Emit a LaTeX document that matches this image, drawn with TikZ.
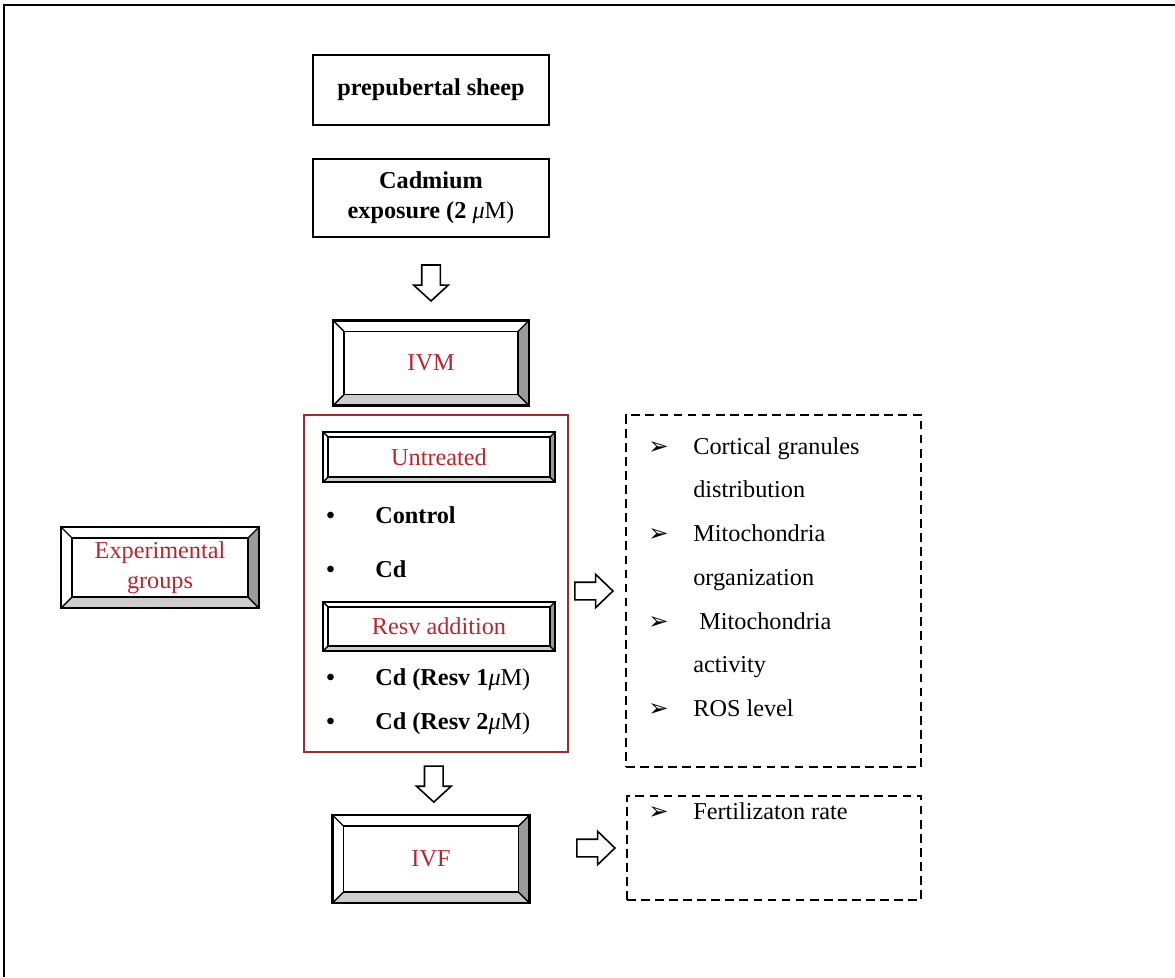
\documentclass[tikz,border=0pt]{standalone}
\usepackage{fontspec}
\setmainfont{Liberation Serif}
\newfontfamily\dingfont{DejaVu Sans}
\usetikzlibrary{calc,positioning,shapes.arrows}
\definecolor{flowRed}{HTML}{B8262D}
\definecolor{frameRed}{HTML}{A32A2C}
\definecolor{bevelDark}{HTML}{9A9A9A}
\definecolor{bevelLight}{HTML}{CDCDCD}
\newcommand{\flowfont}{\fontsize{13.8}{17}\selectfont}

\begin{document}
\begin{tikzpicture}[x=0.02cm,y=-0.02cm,font=\flowfont]
  \tikzset{
    bevel depth/.store in=\bevdepth,
    bevel depth=0.22cm,
    plainbox/.style={
      draw,
      line width=1.1pt,
      font=\flowfont\bfseries,
      align=center,
      inner sep=0pt
    },
    bevelbox/.style={
      draw,
      line width=1.2pt,
      fill=white,
      text=flowRed,
      align=center,
      inner sep=0pt,
      path picture={
        \path (path picture bounding box.north west) coordinate (bnw)
              (path picture bounding box.north east) coordinate (bne)
              (path picture bounding box.south west) coordinate (bsw)
              (path picture bounding box.south east) coordinate (bse);
        \path ([shift={(\bevdepth,-\bevdepth)}]bnw) coordinate (inw)
              ([shift={(-\bevdepth,-\bevdepth)}]bne) coordinate (ine)
              ([shift={(\bevdepth,\bevdepth)}]bsw) coordinate (isw)
              ([shift={(-\bevdepth,\bevdepth)}]bse) coordinate (ise);
        \fill[bevelDark] (bne) -- (bse) -- (ise) -- (ine) -- cycle;
        \fill[bevelLight] (bsw) -- (bse) -- (ise) -- (isw) -- cycle;
        \draw[line width=0.8pt] (inw) rectangle (ise);
        \draw[line width=0.8pt] (bnw) -- (inw) (bne) -- (ine) (bsw) -- (isw) (bse) -- (ise);
      }
    },
    dashbox/.style={
      draw,
      line width=1.1pt,
      dash pattern=on 5pt off 3pt
    },
    blockarrow/.style={
      single arrow,
      draw,
      fill=white,
      line width=0.9pt,
      inner xsep=0pt
    },
    downarrow/.style={
      blockarrow,
      rotate=-90,
      inner ysep=0.17cm,
      minimum height=0.72cm,
      single arrow head extend=0.16cm,
      single arrow tip angle=95
    },
    rightarrow/.style={
      blockarrow,
      inner ysep=0.16cm,
      minimum height=0.76cm,
      single arrow head extend=0.16cm,
      single arrow tip angle=88
    },
    groupitem/.style={anchor=base west, inner sep=0pt, font=\flowfont\bfseries},
    outitem/.style={anchor=base west, inner sep=0pt, font=\fontsize{13.8}{24.9}\selectfont}
  }
  \useasboundingbox (0,0) rectangle (1175,977);

  % page frame
  \draw[line width=1.1pt] (4,977) |- (1175,5);

  % main column
  \node[plainbox,minimum width=4.72cm,minimum height=1.4cm] (sheep) at (431,90) {prepubertal sheep};
  \node[plainbox,minimum width=4.72cm,minimum height=1.56cm] (cad) at (431,198) {Cadmium\\exposure (2 \textmd{\textit{μ}M)}};
  \node[bevelbox,minimum width=3.92cm,minimum height=1.7cm] (ivm) at (431,363) {IVM};
  \node[downarrow] (arr1) at ($(cad.south)!0.5!(ivm.north)$) {};

  % treatment groups
  \node[draw=frameRed,line width=1.2pt,minimum width=5.28cm,minimum height=6.74cm] (groups) at (436,583.5) {};
  \node[bevelbox,bevel depth=0.1cm,minimum width=4.64cm,minimum height=1.0cm] (untr) at (439,457) {Untreated};
  \node[groupitem] (bul1) at (326,523) {•};
  \node[groupitem] (ctrl) at (375,523) {Control};
  \node[groupitem] (bul2) at (326,577) {•};
  \node[groupitem] (cd) at (375,577) {Cd};
  \node[bevelbox,bevel depth=0.1cm,minimum width=4.64cm,minimum height=0.98cm] (resv) at (439,626.5) {Resv addition};
  \node[groupitem] (bul3) at (326,685) {•};
  \node[groupitem] (resv1) at (375,685) {Cd (Resv 1\textmd{\textit{μ}M)}};
  \node[groupitem] (bul4) at (326,729) {•};
  \node[groupitem] (resv2) at (375,729) {Cd (Resv 2\textmd{\textit{μ}M)}};

  \node[bevelbox,minimum width=3.96cm,minimum height=1.62cm] (exp) at (160,567.5) {Experimental\\groups};

  % outcomes after IVM
  \node[dashbox,minimum width=5.9cm,minimum height=7.04cm] (outbox) at (773.5,591) {};
  \node[rightarrow,left=0.22cm of outbox] (arr2) {};
  \node[outitem] (outlist) at (648,454) {%
    \begin{tabular}[t]{@{}p{0.9cm}@{}l@{}}
      {\dingfont ➢} & Cortical granules\\
                    & distribution\\
      {\dingfont ➢} & Mitochondria\\
                    & organization\\
      {\dingfont ➢} & \ Mitochondria\\
                    & activity\\
      {\dingfont ➢} & ROS level
    \end{tabular}};

  % fertilization
  \node[bevelbox,minimum width=3.94cm,minimum height=1.76cm] (ivf) at (431,859) {IVF};
  \node[downarrow] (arr3) at ($(groups.south)!0.44!(ivf.north)$) {};
  \node[dashbox,minimum width=5.88cm,minimum height=2.08cm] (fert) at (774,848) {};
  \node[rightarrow,left=0.2cm of fert] (arr4) {};
  \node[outitem] (fertlist) at (648,819) {%
    \begin{tabular}[t]{@{}p{0.9cm}@{}l@{}}
      {\dingfont ➢} & Fertilizaton rate
    \end{tabular}};
\end{tikzpicture}
\end{document}
